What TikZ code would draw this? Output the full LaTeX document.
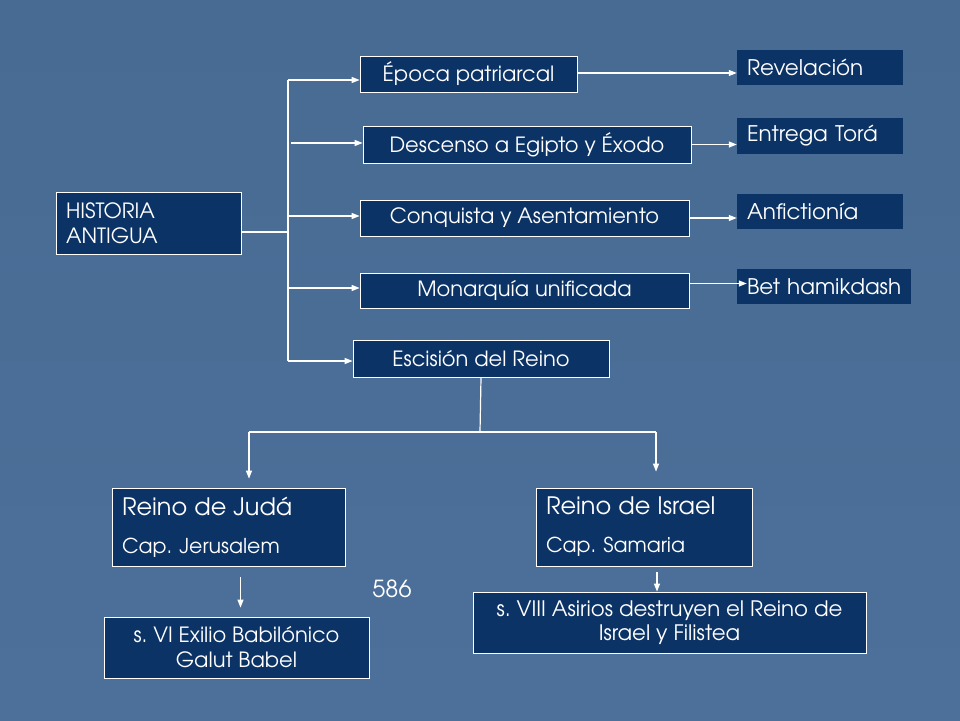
\documentclass[tikz,border=0pt]{standalone}
\usepackage{fontspec}
\setmainfont{TeX Gyre Adventor}
\usetikzlibrary{arrows.meta,calc}
\definecolor{bgtop}{RGB}{72,107,147}
\definecolor{bgbot}{RGB}{76,112,154}
\definecolor{navy}{RGB}{12,51,102}
\frenchspacing
\tikzset{
  bx/.style={rectangle, draw=white, line width=0.8pt, fill=navy, text=white, inner sep=0pt, font=\fontsize{21}{25}\selectfont},
  sbx/.style={rectangle, fill=navy, text=white, inner ysep=0pt, inner xsep=10pt, align=left, font=\fontsize{21.5}{25}\selectfont},
  lbx/.style={bx, align=left, inner xsep=10pt},
  cbx/.style={bx, align=center},
  conn/.style={draw=white, line width=1.2pt},
  arr/.style={conn, -{Triangle[length=8pt,width=6pt]}},
}
\begin{document}
\begin{tikzpicture}[x=1pt,y=-1pt]
\useasboundingbox (0,0) rectangle (960,720);
\shade[top color=bgtop, bottom color=bgbot] (0,0) rectangle (960,720);

% main column boxes
\node[lbx, minimum height=62pt, text width=165pt] (hist) at (148.5,223) {HISTORIA\\ANTIGUA};
\node[cbx, minimum width=217pt, minimum height=36pt] (epoca) at (468.5,74) {Época patriarcal};
\node[cbx, minimum width=328pt, minimum height=37pt] (desc) at (527,144.5) {Descenso a Egipto y Éxodo};
\node[cbx, minimum width=329pt, minimum height=36pt] (conq) at (524.5,218) {Conquista y Asentamiento};
\node[cbx, minimum width=329pt, minimum height=35pt] (mon) at (524.5,290.5) {Monarquía unificada};
\node[cbx, minimum width=256pt, minimum height=37pt] (esc) at (481,358.5) {Escisión del Reino};

% right boxes
\node[sbx, minimum height=35pt, text width=146pt] (rev) at (820,67.5) {Revelación};
\node[sbx, minimum height=36pt, text width=146pt] (ent) at (820,136) {Entrega Torá};
\node[sbx, minimum height=35pt, text width=146pt] (anf) at (820,211.5) {Anfictionía};
\node[sbx, minimum height=35pt, text width=154pt] (bet) at (824,286.5) {\mbox{Bet hamikdash}};

% kingdoms
\node[lbx, minimum height=78pt, text width=213pt] (juda) at (228.5,527) {{\fontsize{24}{28}\selectfont Reino de Judá}\\[13pt]{\fontsize{20.5}{24}\selectfont Cap. Jerusalem}};
\node[lbx, minimum height=78pt, text width=196pt] (isr) at (644,527) {{\fontsize{24}{28}\selectfont Reino de Israel}\\[13pt]{\fontsize{20.5}{24}\selectfont Cap. Samaria}};
\node[cbx, minimum width=265pt, minimum height=61pt] (s6) at (236.5,647.5) {s. VI Exilio Babilónico\\Galut Babel};
\node[cbx, minimum width=393pt, minimum height=61pt, font=\fontsize{21.3}{24}\selectfont] (s8) at (669.5,622.5) {s. VIII Asirios destruyen el Reino de\\Israel y Filistea};
\node[text=white, inner sep=0pt, font=\fontsize{23.5}{28}\selectfont] (yr) at (392,589) {586};

% trunk
\coordinate (j) at (288,232);
\coordinate (t1) at (288,80);
\coordinate (t2) at (291,143);
\coordinate (t3) at (288,216);
\coordinate (t4) at (288,288);
\coordinate (t5) at (288,361);
\draw[conn] ([yshift=-9pt]hist.east) -- (j);
\draw[conn] (t1) -- (t5);
\draw[arr] (t1) -- (t1 -| epoca.west);
\draw[arr] (t2) -- (t2 -| desc.west);
\draw[arr] (t3) -- (t3 -| conq.west);
\draw[arr] (t4) -- (t4 -| mon.west);
\draw[arr] (t5) -- (t5 -| esc.west);

% right arrows
\draw[arr] ([yshift=1pt]epoca.east) -- ([yshift=1pt]epoca.east -| rev.west);
\draw[arr] (desc.east) -- (desc.east -| ent.west);
\draw[arr] (conq.east) -- (conq.east -| anf.west);
\draw[arr] ([yshift=7pt]mon.east) -- ([yshift=7pt,xshift=10pt]mon.east -| bet.west);

% split
\coordinate (sp) at (480,432);
\coordinate (sl) at (249,432);
\coordinate (sr) at (656,432);
\draw[conn] (esc.south) -- (sp);
\draw[conn] (sl) -- (sr);
\draw[arr, shorten >=9pt] (sl) -- (sl |- juda.north);
\draw[arr, shorten >=16pt] (sr) -- (sr |- isr.north);

% lower arrows
\coordinate (a6) at (240.5,577);
\coordinate (a8) at (657,572);
\draw[arr, shorten >=9pt] (a6) -- (a6 |- s6.north);
\draw[arr] (a8) -- (a8 |- s8.north);
\end{tikzpicture}
\end{document}
